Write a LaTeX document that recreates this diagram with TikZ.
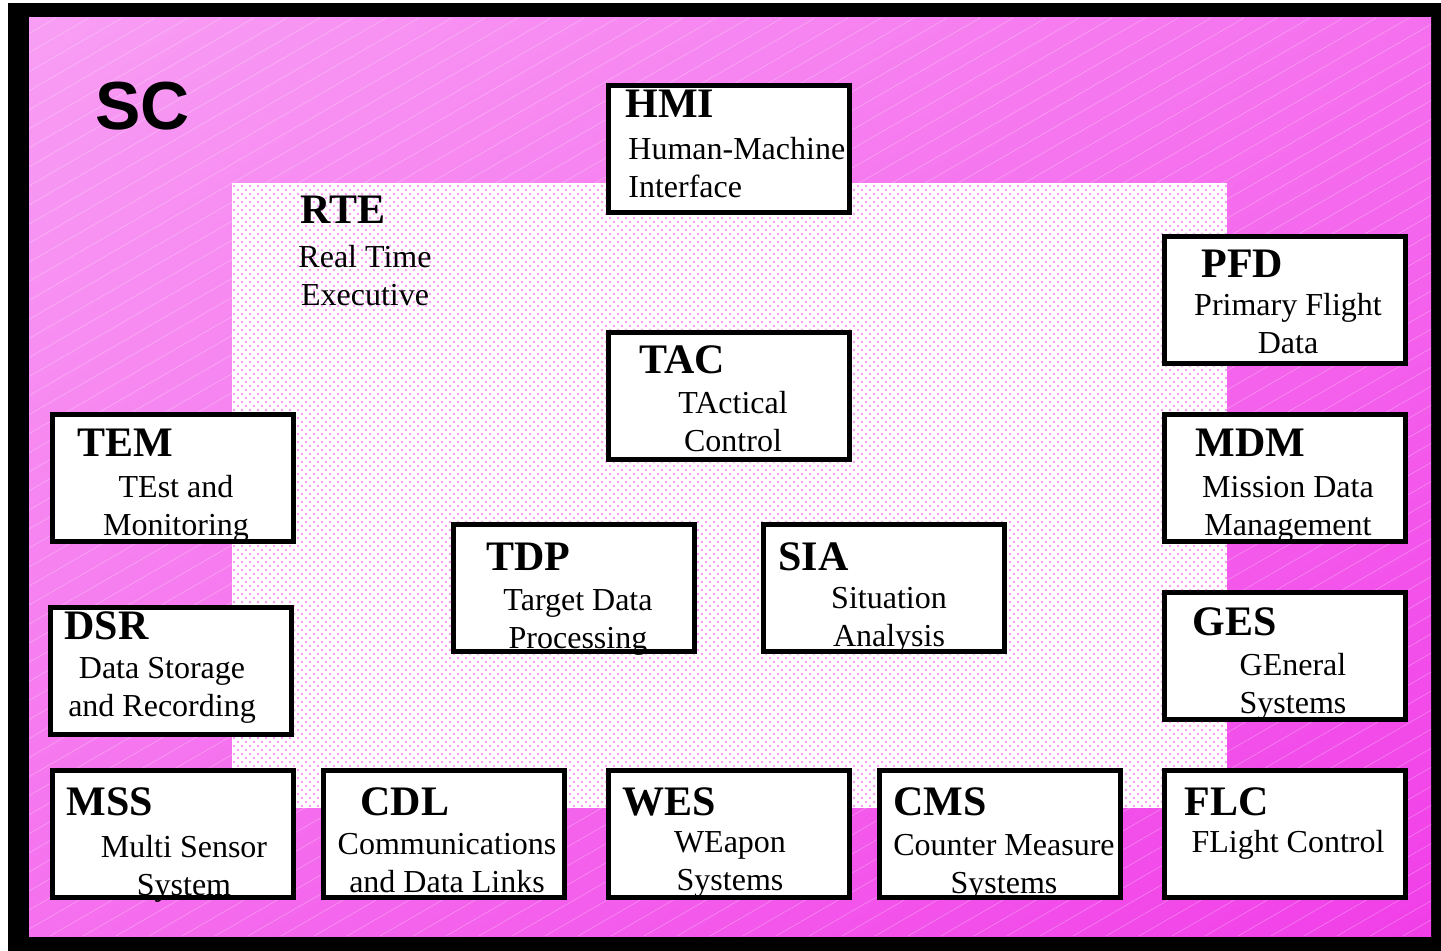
\documentclass[tikz,border=0pt]{standalone}
\usepackage{fontspec}
\setmainfont{Liberation Serif}
\newfontfamily\scfont{Liberation Sans}
\usetikzlibrary{shadings}

\definecolor{pinklt}{RGB}{248,158,244}
\definecolor{pinkmd}{RGB}{245,112,238}
\definecolor{pinkdk}{RGB}{241,62,232}
\definecolor{dotpink}{RGB}{249,150,243}

\begin{document}
\begin{tikzpicture}[x=0.5pt, y=-0.5pt, line join=miter,
	box/.style={draw=black, line width=2.5pt, fill=white, minimum width=120.5pt, minimum height=63.5pt, inner sep=0pt},
	ttl/.style={anchor=base west, inner sep=0pt, font=\fontsize{21}{21}\selectfont\bfseries},
	txt/.style={anchor=base, inner sep=0pt, align=center, font=\fontsize{16}{19}\selectfont},
	dotrow/.style={dotpink, line width=1.3pt, line cap=round, dash pattern=on 0pt off 4pt}]
	\useasboundingbox (0,0) rectangle (1441,951);
	% frame and background
	\fill[black] (8,3) rectangle (1441,951);
	\shade[upper left=pinklt, upper right=pinkmd, lower left=pinkmd, lower right=pinkdk] (29,18) rectangle (1431,936);
	\begin{scope}
		\clip (29,18) rectangle (1431,936);
		\foreach \i in {0,...,95}
		\draw[white, opacity=0.3, line width=0.3pt] (\i*33-1600,936) -- ++(1590,-918);
	\end{scope}
	% RTE area
	\fill[white] (232,183) rectangle (1227,808);
	\begin{scope}
		\clip (232,183) rectangle (1227,808);
		\foreach \r in {0,...,78}{
			\draw[dotrow] (234,186+8*\r) -- (1230,186+8*\r);
			\draw[dotrow, dash phase=2pt] (234,190+8*\r) -- (1230,190+8*\r);
		}
	\end{scope}
	\node[anchor=base west, inner sep=0pt, font=\scfont\fontsize{34}{34}\selectfont\bfseries] (sc) at (95,130) {SC};
	\node[ttl] (rte) at (300,224) {RTE};
	\node[txt] (rtetxt) at (365,306) {Real Time\\Executive};
	% boxes (body text sits on the baseline of its last line)
	\node[box] (hmi) at (728.5,149) {};
	\node[ttl] (hmittl) at (625,118) {HMI};
	\node[txt, align=left, anchor=base west] (hmitxt) at (628,198) {Human-Machine\\Interface};
	\node[box] (pfd) at (1285,300) {};
	\node[ttl] (pfdttl) at (1201,278) {PFD};
	\node[txt] (pfdtxt) at (1288,354) {Primary Flight\\Data};
	\node[box] (tac) at (728.5,396) {};
	\node[ttl] (tacttl) at (639,374) {TAC};
	\node[txt] (tactxt) at (733,452) {TActical\\Control};
	\node[box] (tem) at (172.5,478.5) {};
	\node[ttl] (temttl) at (77,457) {TEM};
	\node[txt] (temtxt) at (176,536) {TEst and\\Monitoring};
	\node[box] (mdm) at (1285,478.5) {};
	\node[ttl] (mdmttl) at (1195,457) {MDM};
	\node[txt] (mdmtxt) at (1288,536) {Mission Data\\Management};
	\node[box] (tdp) at (573.5,588.5) {};
	\node[ttl] (tdpttl) at (486,571) {TDP};
	\node[txt] (tdptxt) at (578,649) {Target Data\\Processing};
	\node[box] (sia) at (884,588.5) {};
	\node[ttl] (siattl) at (778,571) {SIA};
	\node[txt] (siatxt) at (889,647) {Situation\\Analysis};
	\node[box] (dsr) at (171,671) {};
	\node[ttl] (dsrttl) at (64,640) {DSR};
	\node[txt] (dsrtxt) at (162,717) {Data Storage\\and Recording};
	\node[box] (ges) at (1285,656) {};
	\node[ttl] (gesttl) at (1192,636) {GES};
	\node[txt] (gestxt) at (1293,714) {GEneral\\Systems};
	\node[box] (mss) at (172.5,834) {};
	\node[ttl] (mssttl) at (66,815) {MSS};
	\node[txt] (msstxt) at (184,895) {Multi Sensor\\System};
	\node[box] (cdl) at (444,834) {};
	\node[ttl] (cdlttl) at (360,815) {CDL};
	\node[txt] (cdltxt) at (447,892) {Communications\\and Data Links};
	\node[box] (wes) at (728.5,834) {};
	\node[ttl] (westtl) at (622,815) {WES};
	\node[txt] (westxt) at (730,890) {WEapon\\Systems};
	\node[box] (cms) at (1000,834) {};
	\node[ttl] (cmsttl) at (893,815) {CMS};
	\node[txt] (cmstxt) at (1004,893) {Counter Measure\\Systems};
	\node[box] (flc) at (1285,834) {};
	\node[ttl] (flcttl) at (1184,815) {FLC};
	\node[txt] (flctxt) at (1288,852) {FLight Control};
\end{tikzpicture}
\end{document}
